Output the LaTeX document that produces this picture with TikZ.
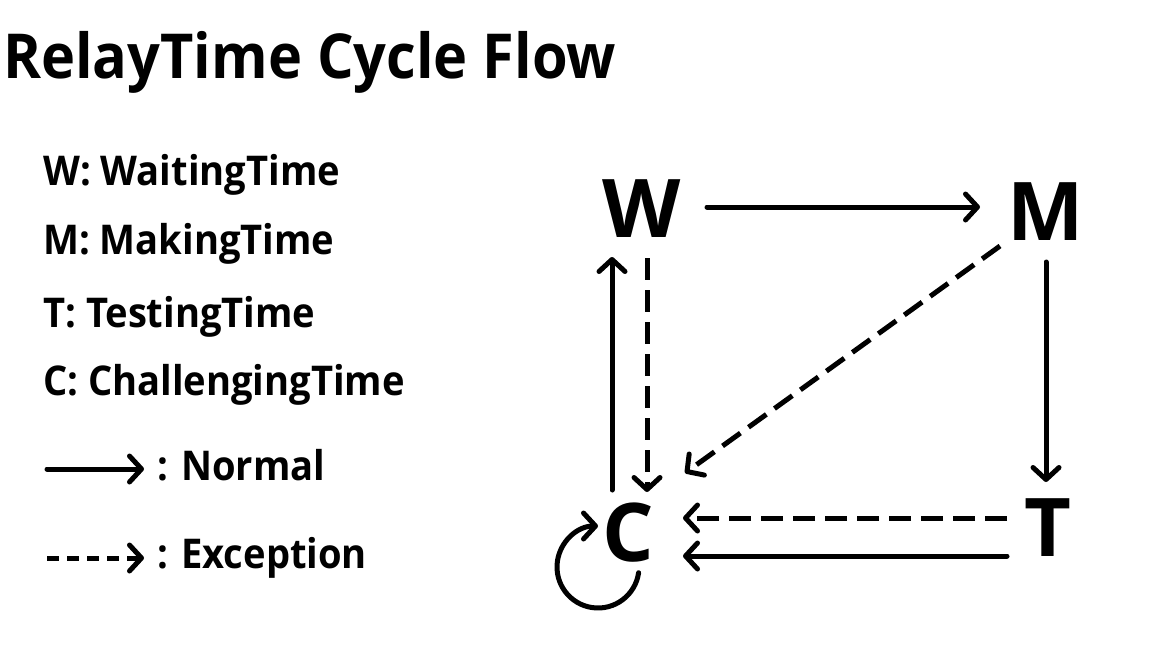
\documentclass[tikz,border=0pt]{standalone}
\usepackage{fontspec}
\setmainfont{Open Sans}[FakeStretch=0.93]
\newfontfamily\statefont{Open Sans}
\usetikzlibrary{
    arrows.meta,
    positioning
}

\begin{document}
\begin{tikzpicture}[
        x=1pt, y=-1pt,
        every node/.style={
            font=\bfseries,
            inner sep=0pt
        },
        title/.style={
            anchor=base west,
            font=\fontsize{62pt}{70pt}\selectfont\bfseries
        },
        legend/.style={
            anchor=base west,
            font=\fontsize{41pt}{46pt}\selectfont\bfseries
        },
        state/.style={
            font=\statefont\fontsize{81pt}{90pt}\selectfont\bfseries
        },
        arrow/.style={
            -{Straight Barb[length=12pt,width=26pt,round]},
            line width=5pt,
            line cap=round
        },
        exception/.style={
            arrow,
            line cap=butt,
            dash pattern=on 22pt off 10pt
        }
    ]

    \useasboundingbox (0,0) rectangle (1174,664);

    \node[title] (head) at (3,78) {RelayTime Cycle Flow};

    % legend
    \node[legend] (legW) at (43,185) {W: WaitingTime};
    \node[legend] (legM) at (43,254) {M: MakingTime};
    \node[legend] (legT) at (43,327) {T: TestingTime};
    \node[legend] (legC) at (43,395) {C: ChallengingTime};

    \node[legend] (normal) at (157,480) {: Normal};
    \node[legend] (except) at (157,568) {: Exception};

    \coordinate (normalstart) at (47,469);
    \coordinate (exceptstart) at (47,558);
    \draw[arrow] (normalstart) -- ([shift={(-13,-11)}]normal.base west);
    \draw[exception, dash pattern=on 12pt off 8pt]
        (exceptstart) -- ([shift={(-13,-10)}]except.base west);

    % states
    \node[state] (W) at (641.5,209) {W};
    \node[state] (M) at (1046,211.5) {M};
    \node[state] (T) at (1048,528) {T};
    \node[state] (C) at (628,533) {C};

    % normal flow
    \draw[arrow] ([shift={(65.5,-2)}]W.center) -- ([shift={(-66,-4.5)}]M.center);
    \draw[arrow] ([shift={(0,50.5)}]M.center) -- ([shift={(-2,-46)}]T.center);
    \draw[arrow] ([shift={(-41,28)}]T.center) -- ([shift={(55,23)}]C.center);
    \draw[arrow] ([shift={(-16,-43)}]C.center) -- ([shift={(-29.5,48)}]W.center);
    \draw[arrow] ([shift={(10.6,39.7)}]C.center)
        arc[start angle=8, end angle=270, radius=41];

    % exceptions
    \draw[exception] ([shift={(-41,-10)}]T.center) -- ([shift={(55,-15)}]C.center);
    \draw[exception] ([shift={(-46,34.5)}]M.center) -- ([shift={(57,-60)}]C.center);
    \draw[exception] ([shift={(5.5,49)}]W.center) -- ([shift={(19,-41)}]C.center);

\end{tikzpicture}
\end{document}
